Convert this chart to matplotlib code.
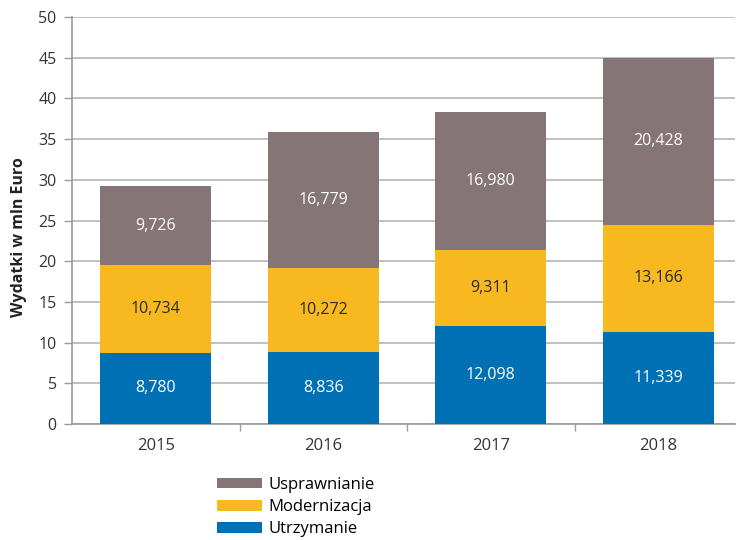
import numpy as np
import matplotlib.pyplot as plt
from matplotlib.ticker import FixedLocator

plt.rcParams['font.family'] = ['Open Sans', 'DejaVu Sans']

years = ['2015', '2016', '2017', '2018']
utrzymanie = [8.780, 8.836, 12.098, 11.339]
modernizacja = [10.734, 10.272, 9.311, 13.166]
usprawnianie = [9.726, 16.779, 16.980, 20.428]

c_utrz = '#0070B4'
c_mod = '#F8B920'
c_usp = '#857577'

fig = plt.figure(figsize=(7.37, 5.40), dpi=100)
ax = fig.add_axes([0.0977, 0.2148, 0.9, 0.7537])

x = np.arange(len(years))
w = 0.66
u = np.array(utrzymanie)
m = np.array(modernizacja)
s = np.array(usprawnianie)

b1 = ax.bar(x, u, w, color=c_utrz, label='Utrzymanie', zorder=3)
b2 = ax.bar(x, m, w, bottom=u, color=c_mod, label='Modernizacja', zorder=3)
b3 = ax.bar(x, s, w, bottom=u + m, color=c_usp, label='Usprawnianie', zorder=3)

def fmt(v):
    return f'{v:.3f}'.replace('.', ',')

for i in range(len(years)):
    ax.text(x[i], u[i] / 2, fmt(u[i]), ha='center', va='center', color='white', fontsize=11.5, zorder=4)
    ax.text(x[i], u[i] + m[i] / 2, fmt(m[i]), ha='center', va='center', color='#2a2a2a', fontsize=11.5, zorder=4)
    ax.text(x[i], u[i] + m[i] + s[i] / 2, fmt(s[i]), ha='center', va='center', color='white', fontsize=11.5, zorder=4)

ax.set_ylim(0, 50)
ax.set_xlim(-0.5, 3.46)
ax.set_yticks(range(0, 51, 5))
ax.set_xticks(x)
ax.set_xticklabels(years)
ax.xaxis.set_minor_locator(FixedLocator([0.5, 1.5, 2.5]))
ax.tick_params(axis='x', which='major', length=0, pad=10, labelsize=12, labelcolor='#333333')
ax.tick_params(axis='x', which='minor', length=5, color='#999999', width=1)
ax.tick_params(axis='y', length=6, color='#999999', width=1, labelsize=11.5, labelcolor='#333333', pad=5)

ax.grid(axis='y', color='#C0C0C0', linewidth=1.4, zorder=0)
for side in ['top', 'right']:
    ax.spines[side].set_visible(False)
ax.spines['left'].set_color('#999999')
ax.spines['bottom'].set_color('#999999')
ax.spines['left'].set_linewidth(1.2)
ax.spines['bottom'].set_linewidth(1.2)

ax.set_ylabel('Wydatki w mln Euro', fontsize=11.5, fontweight='bold', color='#222222')
ax.yaxis.set_label_coords(-0.068, 0.46)

fig.legend([b3, b2, b1], ['Usprawnianie', 'Modernizacja', 'Utrzymanie'],
           loc='upper left', bbox_to_anchor=(0.295, 0.117), frameon=False,
           fontsize=12, handlelength=2.7, handleheight=0.6, labelspacing=0.38,
           handletextpad=0.35, borderaxespad=0, borderpad=0)

fig.savefig('out.png', dpi=100)
